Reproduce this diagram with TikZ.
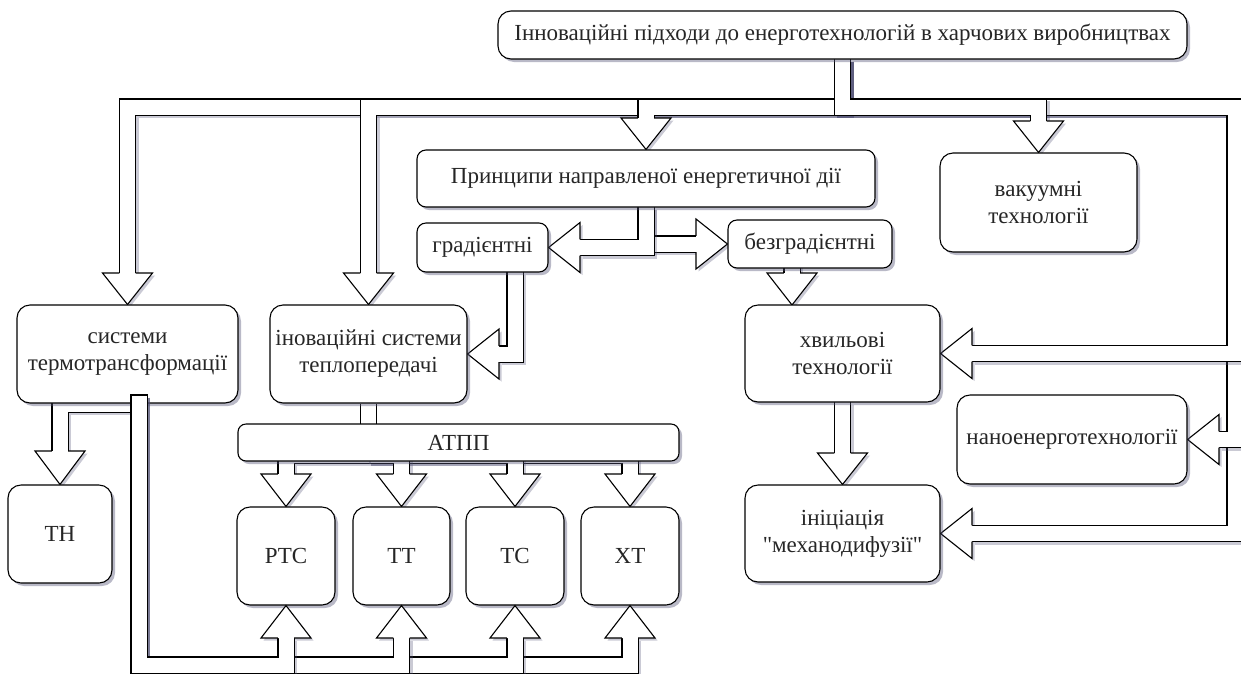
\documentclass[tikz,border=0pt]{standalone}
\usepackage{fontspec}
\setmainfont{Liberation Serif}
\usetikzlibrary{calc,shadows}
\pgfdeclarelayer{arr}
\pgfsetlayers{arr,main}
\definecolor{shc}{RGB}{80,80,115}
\newcommand\sq{{\XeTeXglyph\XeTeXcharglyph"22 }}
\tikzset{
  box/.style={draw=black, line width=1.1pt, fill=white, rounded corners=13pt, inner sep=0pt,
    align=center, font=\fontsize{23}{27}\selectfont, text=black!85,
    drop shadow={shadow xshift=3pt, shadow yshift=-3pt, fill=shc, opacity=0.4}},
  smallbox/.style={box, rounded corners=9pt},
  shaft/.style={draw=black, line width=1.1pt, double=white, double distance=15pt, line join=miter},
  ahead/.style={draw=black, fill=white, line width=1.1pt, line join=miter},
  ashadow/.style={draw=shc, line width=17pt, opacity=0.3, line join=miter},
  hshadow/.style={fill=shc, opacity=0.3},
}
% #1 path from start to base, #2 base, #3 tip
\newcommand\farrow[3]{%
  \begin{scope}[transform canvas={xshift=2.5pt,yshift=-2.5pt}]
    \draw[ashadow] #1;
    \fill[hshadow] ($(#2)!25pt!90:(#3)$) -- (#3) -- ($(#2)!25pt!-90:(#3)$) -- cycle;
  \end{scope}
  \draw[shaft] #1;
  \filldraw[ahead] ($(#2)!8.05pt!90:(#3)$) -- ($(#2)!25pt!90:(#3)$) -- (#3)
     -- ($(#2)!25pt!-90:(#3)$) -- ($(#2)!8.05pt!-90:(#3)$);
}
\begin{document}
\begin{tikzpicture}[x=1pt,y=-1pt]
\useasboundingbox (0,0) rectangle (1241,673);
\clip (0,0) rectangle (1241,673);

% ---------- boxes ----------
\node[box, minimum width=689pt, minimum height=48pt] (top) at (842.5,35)
  {Інноваційні підходи до енерготехнологій в харчових виробництвах};
\node[smallbox, minimum width=458pt, minimum height=57pt] (princ) at (646,178.5)
  {Принципи направленої енергетичної дії};
\node[smallbox, minimum width=131pt, minimum height=49pt] (grad) at (482.5,247.5) {градієнтні};
\node[smallbox, minimum width=164pt, minimum height=48pt] (bez) at (810,244) {безградієнтні};
\node[box, minimum width=197pt, minimum height=99pt] (vac) at (1038.5,202.5) {вакуумні\\технології};
\node[box, minimum width=221pt, minimum height=98pt] (syst) at (127.5,354) {системи\\термотрансформації};
\node[box, minimum width=197pt, minimum height=98pt] (inno) at (368.5,354) {іноваційні системи\\теплопередачі};
\node[box, minimum width=195pt, minimum height=97pt] (hvyl) at (842.5,353.5) {хвильові\\технології};
\node[box, minimum width=230pt, minimum height=89pt] (nano) at (1072,439.5) {наноенерготехнології};
\node[box, minimum width=195pt, minimum height=97pt] (inic) at (842.5,533.5) {ініціація\\\sq механодифузії\sq};
\node[box, minimum width=104pt, minimum height=98pt] (th) at (60,534) {ТН};
\node[box, minimum width=98pt, minimum height=98pt] (rtc) at (286,556) {РТС};
\node[box, minimum width=97pt, minimum height=98pt] (tt) at (401.5,556) {ТТ};
\node[box, minimum width=98pt, minimum height=98pt] (tc) at (515,556) {ТС};
\node[box, minimum width=98pt, minimum height=98pt] (xt) at (630,556) {ХТ};

% ---------- arrows under the boxes ----------
\begin{pgfonlayer}{arr}
\clip (0,0) rectangle (1241,673);
% from the top box
\farrow{(842.5,59) -- (842.5,107) -- (127.5,107) -- (127.5,273)}{127.5,273}{syst.north}
\farrow{(842.5,59) -- (842.5,107) -- (368.5,107) -- (368.5,273)}{368.5,273}{inno.north}
\farrow{(842.5,59) -- (842.5,107) -- (646,107) -- (646,118)}{646,118}{princ.north}
\farrow{(842.5,59) -- (842.5,107) -- (1235,107) -- (1235,533.5) -- (972,533.5)}{972,533.5}{inic.east}
\farrow{(842.5,59) -- (842.5,107) -- (1235,107) -- (1235,439.5) -- (1219,439.5)}{1219,439.5}{nano.east}
\farrow{(842.5,59) -- (842.5,107) -- (1235,107) -- (1235,353.5) -- (972,353.5)}{972,353.5}{hvyl.east}
\farrow{(842.5,59) -- (842.5,107) -- (1038.5,107) -- (1038.5,121)}{1038.5,121}{vac.north}
% principles
\farrow{(646,207) -- (646,244) -- (696,244)}{696,244}{bez.west}
\farrow{(646,207) -- (646,247.5) -- (580,247.5)}{580,247.5}{grad.east}
% gradient -> heat transfer
\farrow{(515,272) -- (515,354) -- (499,354)}{499,354}{inno.east}
% gradientless -> wave
\farrow{(792,262) -- (792,273)}{792,273}{792,305}
% wave -> initiation
\farrow{(842.5,402) -- (842.5,453)}{842.5,453}{inic.north}
% heat transfer -> ATPP
\draw[shaft] (inno.south) -- (368.5,430);
% ATPP -> boxes
\farrow{(368.5,455) -- (630,455) -- (630,474)}{630,474}{xt.north}
\farrow{(368.5,455) -- (515,455) -- (515,474)}{515,474}{tc.north}
\farrow{(368.5,455) -- (401.5,455) -- (401.5,474)}{401.5,474}{tt.north}
\farrow{(368.5,455) -- (286,455) -- (286,474)}{286,474}{rtc.north}
% systems -> TH
\farrow{(139,404) -- (60,404) -- (60,451)}{60,451}{th.north}
\end{pgfonlayer}

\node[smallbox, rounded corners=8pt, minimum width=441pt, minimum height=37pt] (atpp) at (458.5,442.5) {АТПП};

% ---------- arrows over the boxes ----------
\farrow{(139,395) -- (139,665) -- (630,665) -- (630,638)}{630,638}{xt.south}
\farrow{(139,395) -- (139,665) -- (515,665) -- (515,638)}{515,638}{tc.south}
\farrow{(139,395) -- (139,665) -- (401.5,665) -- (401.5,638)}{401.5,638}{tt.south}
\farrow{(139,395) -- (139,665) -- (286,665) -- (286,638)}{286,638}{rtc.south}
\draw[line width=1.1pt] (130.4,395) -- (147.6,395);
\end{tikzpicture}
\end{document}
